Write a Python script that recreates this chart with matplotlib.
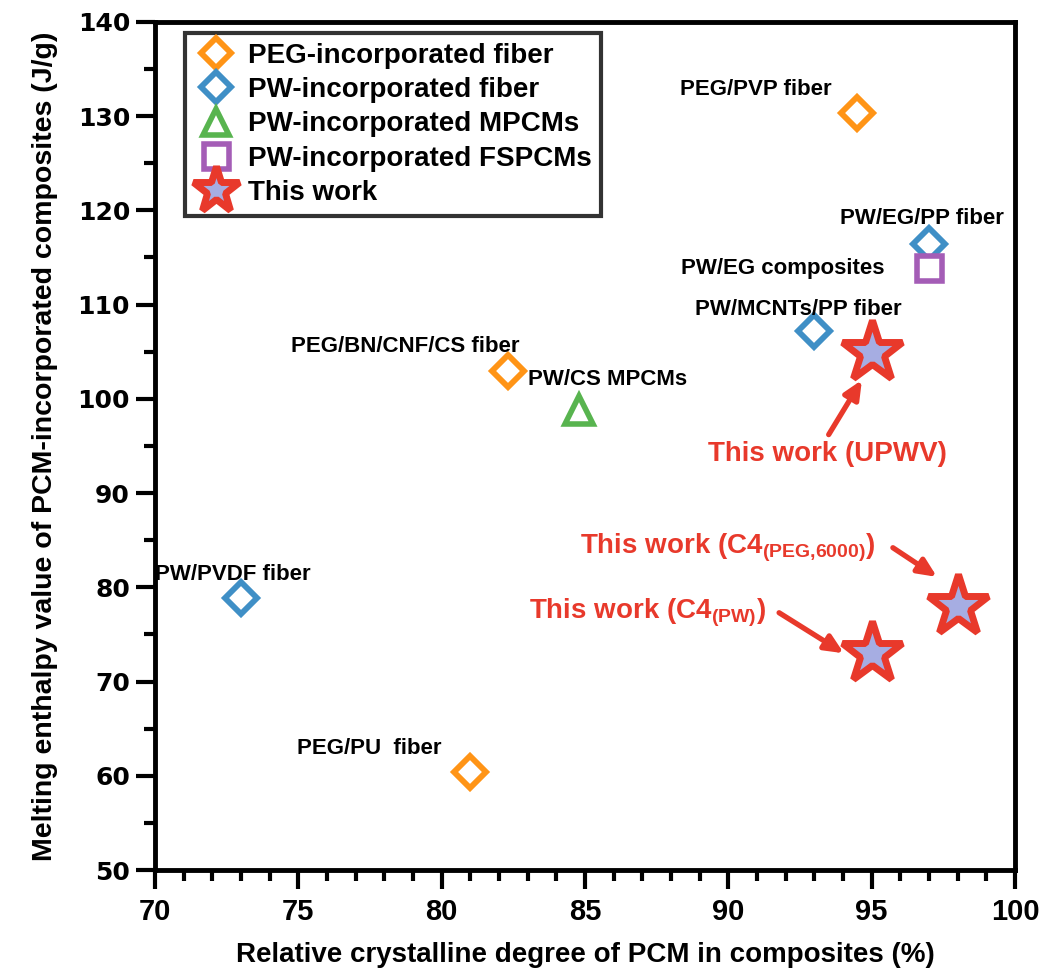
import matplotlib
matplotlib.use('Agg')
import matplotlib.pyplot as plt
from matplotlib.ticker import MultipleLocator

plt.rcParams['font.family'] = ['Liberation Sans', 'DejaVu Sans']
plt.rcParams['font.weight'] = 'bold'
plt.rcParams['mathtext.fontset'] = 'custom'
plt.rcParams['mathtext.rm'] = 'Liberation Sans:bold'
plt.rcParams['mathtext.bf'] = 'Liberation Sans:bold'

# data: (crystalline degree %, melting enthalpy J/g)
peg_fiber_x = [94.5, 82.3, 81.0]
peg_fiber_y = [130.3, 103.0, 60.4]
peg_fiber_names = ['PEG/PVP fiber', 'PEG/BN/CNF/CS fiber', 'PEG/PU  fiber']

pw_fiber_x = [97.0, 93.0, 73.0]
pw_fiber_y = [116.4, 107.2, 78.9]
pw_fiber_names = ['PW/EG/PP fiber', 'PW/MCNTs/PP fiber', 'PW/PVDF fiber']

pw_mpcm_x = [84.8]
pw_mpcm_y = [98.8]
pw_mpcm_names = ['PW/CS MPCMs']

pw_fspcm_x = [97.0]
pw_fspcm_y = [113.9]
pw_fspcm_names = ['PW/EG composites']

this_x = [95.0, 98.0, 95.0]
this_y = [105.0, 78.0, 73.0]

RED = '#E8392B'
ORANGE = '#FF9416'
BLUE = '#3F8FC6'
GREEN = '#58B44F'
PURPLE = '#A45DB6'
STAR_FILL = '#A6ADE2'

fig = plt.figure(figsize=(10.48, 9.76), dpi=100)
ax = fig.add_axes([0.148, 0.1086, 0.8205, 0.869])

ax.plot(peg_fiber_x, peg_fiber_y, 'D', ms=16, mfc='white', mec=ORANGE, mew=4.2,
        ls='none', label='PEG-incorporated fiber', zorder=3)
ax.plot(pw_fiber_x, pw_fiber_y, 'D', ms=16, mfc='white', mec=BLUE, mew=4.2,
        ls='none', label='PW-incorporated fiber', zorder=3)
ax.plot(pw_mpcm_x, pw_mpcm_y, '^', ms=20, mfc='white', mec=GREEN, mew=4,
        ls='none', label='PW-incorporated MPCMs', zorder=3)
ax.plot(pw_fspcm_x, pw_fspcm_y, 's', ms=18, mfc='white', mec=PURPLE, mew=4,
        ls='none', label='PW-incorporated FSPCMs', zorder=3)
ax.plot(this_x, this_y, '*', ms=46, mfc=STAR_FILL, mec=RED, mew=5,
        ls='none', label='This work', zorder=4)

# point labels
lab_fs = 16
label_pos = {
    'PEG/PVP fiber': (88.3, 132.8),
    'PEG/BN/CNF/CS fiber': (74.75, 105.6),
    'PEG/PU  fiber': (74.95, 62.9),
    'PW/EG/PP fiber': (93.9, 119.1),
    'PW/MCNTs/PP fiber': (88.85, 109.5),
    'PW/PVDF fiber': (69.98, 81.4),
    'PW/CS MPCMs': (83.0, 102.0),
    'PW/EG composites': (88.35, 113.8),
}
for name, (tx, ty) in label_pos.items():
    ax.text(tx, ty, name, fontsize=lab_fs, fontweight='bold', ha='left', va='center',
            color='black', zorder=5)

# red annotations
ann_fs = 20
arrow_kw = dict(arrowstyle='-|>,head_length=1.1,head_width=0.5', color=RED, lw=3.8,
                shrinkA=0, shrinkB=0)
ax.annotate('', xy=(94.66, 102.0), xytext=(93.5, 96.2), arrowprops=arrow_kw)
ax.annotate('', xy=(97.28, 81.1), xytext=(95.74, 84.2), arrowprops=arrow_kw)
ax.annotate('', xy=(94.03, 73.0), xytext=(91.77, 77.3), arrowprops=arrow_kw)
ax.text(93.47, 94.1, 'This work (UPWV)', fontsize=ann_fs, fontweight='bold', color=RED,
        ha='center', va='center')
ax.text(84.82, 84.2, r'This work (C4$_{\mathbf{(PEG{,}6000)}}$)', fontsize=ann_fs,
        fontweight='bold', color=RED, ha='left', va='center')
ax.text(83.04, 77.3, r'This work (C4$_{\mathbf{(PW)}}$)', fontsize=ann_fs,
        fontweight='bold', color=RED, ha='left', va='center')

ax.set_xlim(70, 100)
ax.set_ylim(50, 140)
ax.xaxis.set_major_locator(MultipleLocator(5))
ax.xaxis.set_minor_locator(MultipleLocator(1))
ax.yaxis.set_major_locator(MultipleLocator(10))
ax.yaxis.set_minor_locator(MultipleLocator(5))

for sp in ax.spines.values():
    sp.set_linewidth(3.5)
ax.tick_params(which='major', direction='out', length=14, width=3)
ax.tick_params(which='minor', direction='out', length=8, width=3)
ax.tick_params(axis='x', which='major', labelsize=21, pad=6)
ax.tick_params(axis='y', which='major', labelsize=18, pad=4)
for lbl in ax.get_yticklabels():
    lbl.set_family(['DejaVu Sans'])
    lbl.set_fontweight('bold')
for lbl in ax.get_xticklabels():
    lbl.set_fontweight('bold')

ax.set_xlabel('Relative crystalline degree of PCM in composites (%)', fontsize=20,
              fontweight='bold', labelpad=12)
ax.set_ylabel('Melting enthalpy value of PCM-incorporated composites (J/g)', fontsize=20.5,
              fontweight='bold', labelpad=14)

leg = ax.legend(loc='upper left', bbox_to_anchor=(0.035, 0.987), borderaxespad=0,
                fontsize=20, frameon=True, fancybox=False, edgecolor='black',
                handletextpad=0.4, borderpad=0.35, labelspacing=0.3, handlelength=1.5)
leg.get_frame().set_linewidth(3)
for h, ms in zip(leg.legend_handles, [15, 15, 19, 18, 35]):
    h.set_markersize(ms)
for t in leg.get_texts():
    t.set_fontweight('bold')

fig.savefig('out.png', dpi=100, facecolor='white')
